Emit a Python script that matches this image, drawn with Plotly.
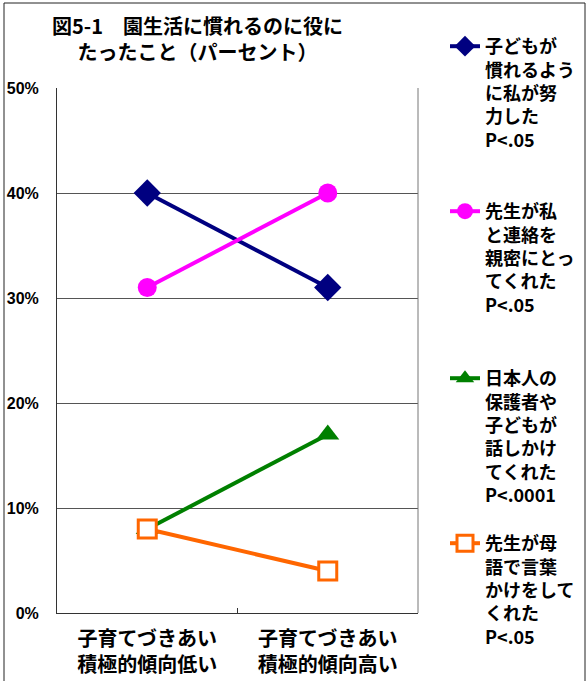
import plotly.graph_objects as go

# Categories (x) and percentage values for each series
categories = ["子育てづきあい<br>積極的傾向低い", "子育てづきあい<br>積極的傾向高い"]
series_names = [
    "子どもが<br>慣れるよう<br>に私が努<br>力した<br>P<.05",
    "先生が私<br>と連絡を<br>親密にとっ<br>てくれた<br>P<.05",
    "日本人の<br>保護者や<br>子どもが<br>話しかけ<br>てくれた<br>P<.0001",
    "先生が母<br>語で言葉<br>かけをして<br>くれた<br>P<.05",
]
effort_self = [40, 31]
teacher_contact = [31, 40]
japanese_parents = [8, 17]
teacher_native_lang = [8, 4]

y_ticks = [0, 10, 20, 30, 40, 50]
y_tick_labels = ["0%", "10%", "20%", "30%", "40%", "50%"]

FONT = "Noto Sans CJK JP"

styles = [
    dict(color="#000080", symbol="diamond", size=21, fill="#000080"),
    dict(color="#FF00FF", symbol="circle", size=19, fill="#FF00FF"),
    dict(color="#008000", symbol="triangle-up", size=20, fill="#008000"),
    dict(color="#FF6600", symbol="square", size=18, fill="#FFFFFF"),
]
values = [effort_self, teacher_contact, japanese_parents, teacher_native_lang]
legend_ids = ["legend", "legend2", "legend3", "legend4"]

fig = go.Figure()
for name, vals, st, lg in zip(series_names, values, styles, legend_ids):
    fig.add_trace(go.Scatter(
        x=categories, y=vals, name=name, mode="lines+markers",
        line=dict(color=st["color"], width=4),
        marker=dict(symbol=st["symbol"], size=st["size"], color=st["fill"],
                    line=dict(color=st["color"], width=3 if st["fill"] == "#FFFFFF" else 0)),
        legend=lg,
    ))

L, R, T, B = 57, 170, 88, 68
PW, PH = 588 - L - R, 681 - T - B


def px_x(v):
    return (v - L) / PW


def px_y(v):
    return (681 - B - v) / PH


legend_font = dict(family=FONT, size=18, color="black", weight="bold")
legend_tops = [28, 193, 360, 525]
legend_layout = {}
for lg, top in zip(legend_ids, legend_tops):
    legend_layout[lg] = dict(
        x=px_x(445), y=px_y(top), xanchor="left", yanchor="top",
        font=legend_font, valign="top", bgcolor="rgba(0,0,0,0)",
        borderwidth=0, tracegroupgap=0,
    )

fig.update_layout(
    width=588, height=681,
    margin=dict(l=L, r=R, t=T, b=B, autoexpand=False),
    paper_bgcolor="white", plot_bgcolor="white",
    showlegend=True,
    xaxis=dict(
        type="category", range=[-0.5, 1.5],
        showgrid=False, showline=True, linecolor="#333", linewidth=1,
        ticks="inside", tickson="boundaries", ticklen=5, tickcolor="#333",
        tickfont=dict(family=FONT, size=20, color="black", weight="bold"),
        ticklabelstandoff=8,
        fixedrange=True, automargin=False,
    ),
    yaxis=dict(
        range=[0, 50], tickvals=y_ticks, ticktext=y_tick_labels,
        showgrid=True, gridcolor="#555", gridwidth=1,
        showline=True, linecolor="#333", linewidth=1,
        ticks="", ticklabelstandoff=14,
        tickfont=dict(family="Liberation Sans", size=16, color="black", weight="bold"),
        zeroline=False, automargin=False,
    ),
    annotations=[
        dict(
            text="図5-1　園生活に慣れるのに役に<br>たったこと（パーセント）",
            font=dict(family=FONT, size=20, color="black", weight="bold"),
            xref="paper", yref="paper", x=px_x(197), y=px_y(9),
            xanchor="center", yanchor="top", showarrow=False, align="center",
        ),
    ],
    shapes=[
        # right edge of plot frame
        dict(type="line", xref="paper", yref="paper", x0=1, x1=1, y0=0, y1=1,
             line=dict(color="#777", width=1)),
        # outer chart border
        dict(type="rect", xref="paper", yref="paper",
             x0=px_x(4), x1=px_x(585), y0=px_y(690), y1=px_y(3),
             line=dict(color="#222", width=1)),
    ],
    **legend_layout,
)

fig.write_html("out.html")
